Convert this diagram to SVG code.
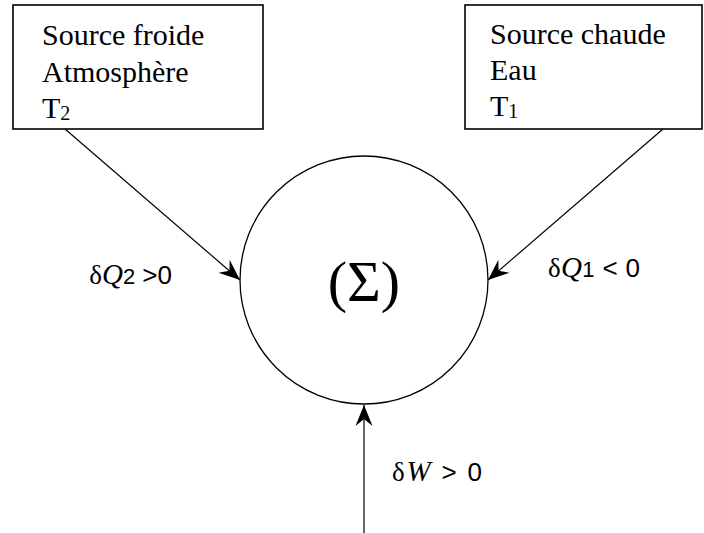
<svg xmlns="http://www.w3.org/2000/svg" width="704" height="533" viewBox="0 0 704 533">
<style>
.box{fill:#fff;stroke:#000;stroke-width:1.6}
.bt{font-family:"Liberation Serif","Times New Roman",serif;font-size:30px;fill:#000}
.sub{font-size:20px}
.ln{stroke:#000;stroke-width:1.2;fill:none}
.lab{font-family:"Liberation Sans",Arial,sans-serif;font-size:26px;fill:#000}
.it{font-family:"Liberation Serif","Times New Roman",serif;font-style:italic;font-size:29px}
.sy{font-family:"Liberation Serif","Times New Roman",serif;font-size:27px}
</style>
<defs>
<marker id="ah" markerUnits="userSpaceOnUse" markerWidth="26" markerHeight="22" viewBox="-22 -11 24 22" refX="0" refY="0" orient="auto">
<path d="M0,0 L-21,-8.5 L-14,0 L-21,8.5 Z" fill="#000"/>
</marker>
</defs>
<g id="connectors">
<line class="ln" x1="65" y1="129" x2="240" y2="280" marker-end="url(#ah)"/>
<line class="ln" x1="663" y1="129" x2="488" y2="280" marker-end="url(#ah)"/>
<line class="ln" x1="364" y1="533" x2="364" y2="405" marker-end="url(#ah)"/>
</g>
<g id="froide">
<rect class="box" x="13" y="5" width="250" height="124"/>
<text class="bt" x="42" y="45">Source froide</text>
<text class="bt" x="42" y="82">Atmosphère</text>
<text class="bt" x="42" y="118">T<tspan class="sub" dy="2">2</tspan></text>
</g>
<g id="chaude">
<rect class="box" x="465" y="5" width="237" height="124"/>
<text class="bt" x="490" y="44">Source chaude</text>
<text class="bt" x="490" y="80">Eau</text>
<text class="bt" x="490" y="116">T<tspan class="sub" dy="2">1</tspan></text>
</g>
<g id="systeme">
<circle cx="364" cy="280" r="124" fill="none" stroke="#000" stroke-width="1.3"/>
<text x="364" y="301" text-anchor="middle" font-family="'Liberation Serif','Times New Roman',serif" font-size="58">(Σ)</text>
</g>
<g id="labels">
<text class="lab" x="172" y="284" text-anchor="end"><tspan class="sy">δ</tspan><tspan class="it">Q</tspan><tspan font-size="22">2</tspan> &gt;0</text>
<text class="lab" x="548" y="277" textLength="92" lengthAdjust="spacing"><tspan class="sy">δ</tspan><tspan class="it">Q</tspan><tspan font-size="22">1</tspan> &lt; 0</text>
<text class="lab" x="392" y="481" textLength="90" lengthAdjust="spacing"><tspan class="sy">δ</tspan><tspan class="it">W</tspan> &gt; 0</text>
</g>
</svg>
